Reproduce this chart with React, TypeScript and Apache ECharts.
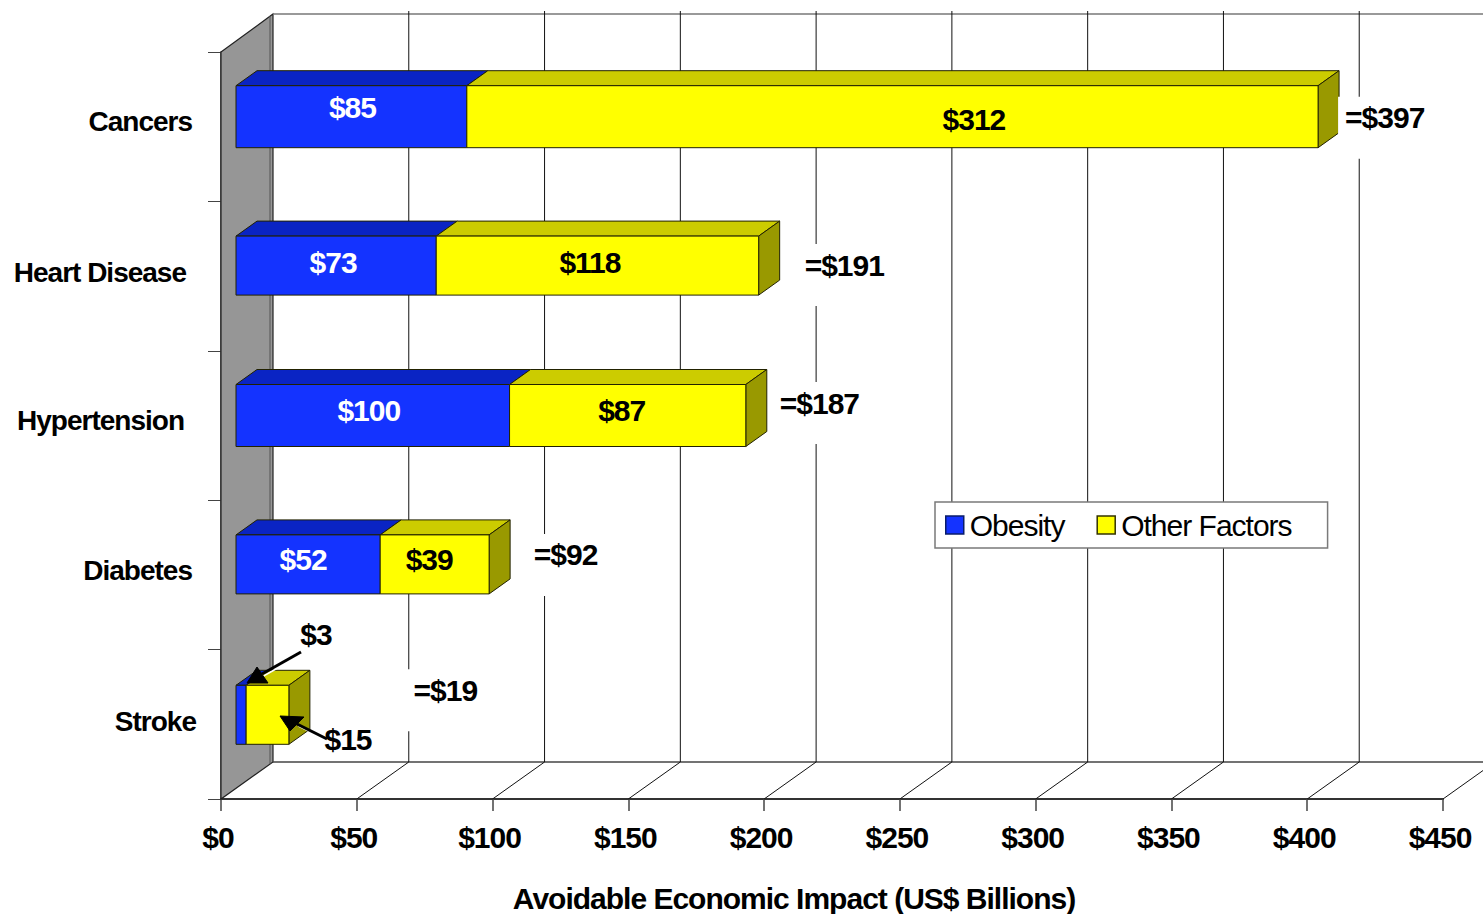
import React, { useEffect, useRef } from "react";
import * as echarts from "echarts";

const categories = ["Cancers", "Heart Disease", "Hypertension", "Diabetes", "Stroke"];
const obesity = [85, 73, 100, 52, 3];
const otherFactors = [312, 118, 87, 39, 15];
const totals = [397, 191, 187, 92, 19];
const xTicks = [50, 100, 150, 200, 250, 300, 350, 400, 450];

// Label placement and small drawing adjustments (pixels), kept apart from the values
const obesityLabelDx = [0, -3, -4, -4.5, 0];
const obesityLabelDy = [-19, -14, -15.5, -15, 0];
const otherLabelDx = [81.5, -6.5, -6, -3, 0];
const otherLabelDy = [-7, -14, -15.5, -15, 0];
const totalLabelDx = [46, 65, 51, 63, 141];
const totalLabelDy = [-9, -11, -22.5, -20, -34];
const categoryPadRight = [4, 10, 12, 4, 0];
const categoryPadBottom = [11, 8, 11, 8, 6];
const joinAdjust = [-2, 0, 0, 1, 0];
const endAdjust = [2, 2, 0, 4, 2];
const topAdjust = [-1, 0, -1, 0, 1];
const bottomAdjust = [1, -1, 1, -1, 0];

const FONT = "Liberation Sans";
const DEPTH_X = 52;
const DEPTH_Y = 37;
const BAR_DX = 21;
const BAR_DY = 15;
const BAR_H = 60;
const BAR_SHIFT = -10;
const BAR_LEFT = 15;
const BAR_JOIN = 17;

const BLUE = { front: "#1433ff", top: "#0a24c4", side: "#0a1d99" };
const YELLOW = { front: "#ffff00", top: "#cccc00", side: "#999900" };

function barRenderer(colors: typeof BLUE, isLast: boolean, labelDx: number[], labelDy: number[], labelColor: string) {
  return (params: any, api: any) => {
    const start = api.value(0);
    const end = api.value(1);
    const idx = api.value(2);
    const c0 = api.coord([start, idx]);
    const c1 = api.coord([end, idx]);
    const x0 = c0[0] + (start === 0 ? BAR_LEFT : BAR_JOIN + joinAdjust[idx]);
    const x1 = c1[0] + BAR_JOIN + (isLast ? endAdjust[idx] : joinAdjust[idx]);
    const yT = c0[1] + BAR_SHIFT - BAR_H / 2 + topAdjust[idx];
    const yB = c0[1] + BAR_SHIFT + BAR_H / 2 + bottomAdjust[idx];
    const edge = { stroke: "#222200", lineWidth: 1, lineJoin: "round" };
    const children: any[] = [
      {
        type: "polygon",
        shape: { points: [[x0, yT], [x0 + BAR_DX, yT - BAR_DY], [x1 + BAR_DX, yT - BAR_DY], [x1, yT]] },
        style: { fill: colors.top, ...edge },
      },
    ];
    if (isLast) {
      children.push({
        type: "polygon",
        shape: { points: [[x1, yT], [x1 + BAR_DX, yT - BAR_DY], [x1 + BAR_DX, yB - BAR_DY], [x1, yB]] },
        style: { fill: colors.side, ...edge },
      });
    }
    children.push({
      type: "rect",
      shape: { x: x0, y: yT, width: x1 - x0, height: yB - yT },
      style: { fill: colors.front, ...edge },
    });
    if (idx < 4) {
      children.push({
        type: "text",
        style: {
          text: "$" + (end - start),
          x: (c0[0] + c1[0]) / 2 + (start === 0 ? (BAR_LEFT + BAR_JOIN) / 2 : BAR_JOIN) + labelDx[idx],
          y: c0[1] + labelDy[idx],
          fill: labelColor,
          font: `bold 30px "${FONT}"`,
          align: "center",
          verticalAlign: "middle",
        },
      });
    }
    return { type: "group", children };
  };
}

function arrow(tail: number[], neck: number[], tip: number[], w1: number[], w2: number[]) {
  return [
    { type: "line", z: 100, shape: { x1: tail[0] + 1.5, y1: tail[1] + 2, x2: neck[0] + 1.5, y2: neck[1] + 2 }, style: { stroke: "#ffffff", lineWidth: 1.5 } },
    { type: "line", z: 101, shape: { x1: tail[0], y1: tail[1], x2: neck[0], y2: neck[1] }, style: { stroke: "#000000", lineWidth: 3 } },
    { type: "polygon", z: 101, shape: { points: [tip, w1, w2] }, style: { fill: "#000000", stroke: "#000000", lineWidth: 1 } },
  ];
}

export default function App() {
  const ref = useRef<HTMLDivElement>(null);
  useEffect(() => {
    if (!ref.current) return;
    const chart = echarts.init(ref.current, undefined, { renderer: "svg" });
    const obesityRows = obesity.map((v, i) => [0, v, i]);
    const otherRows = otherFactors.map((v, i) => [obesity[i], obesity[i] + v, i]);
    const richCat: any = {};
    categories.forEach((_, i) => {
      richCat["c" + i] = {
        fontFamily: FONT,
        fontWeight: "bold",
        fontSize: 28,
        color: "#000",
        padding: [0, categoryPadRight[i], categoryPadBottom[i], 0],
      };
    });
    chart.setOption({
      animation: false,
      backgroundColor: "#ffffff",
      textStyle: { fontFamily: FONT },
      grid: { left: 221, top: 52, width: 1222, height: 747, containLabel: false, outerBoundsMode: "none" },
      legend: {
        left: 935,
        top: 502,
        orient: "horizontal",
        itemWidth: 18,
        itemHeight: 18,
        itemGap: 25,
        padding: [8, 23, 8, 10],
        backgroundColor: "#ffffff",
        borderColor: "#7a7a7a",
        borderWidth: 1.5,
        data: [
          { name: "Obesity", icon: "rect", itemStyle: { color: BLUE.front, borderColor: "#0a1d6a", borderWidth: 1.5 } },
          { name: "Other Factors", icon: "rect", itemStyle: { color: YELLOW.front, borderColor: "#333300", borderWidth: 1.5 } },
        ],
        textStyle: { fontFamily: FONT, fontSize: 30, color: "#000", padding: [0, 0, 0, 1] },
        selectedMode: false,
        z: 50,
      },
      xAxis: {
        type: "value",
        min: 0,
        max: 450,
        interval: 50,
        position: "bottom",
        name: "Avoidable Economic Impact (US$ Billions)",
        nameLocation: "center",
        nameGap: 84,
        nameTextStyle: { fontFamily: FONT, fontWeight: "bold", fontSize: 30, color: "#000", padding: [0, 76, 0, 0] },
        axisLine: { show: true, onZero: false, lineStyle: { color: "#333", width: 2 } },
        axisTick: { show: true, length: 12, lineStyle: { color: "#444", width: 1.5 } },
        axisLabel: {
          formatter: (v: number) => "$" + v,
          fontFamily: FONT,
          fontWeight: "bold",
          fontSize: 30,
          color: "#000",
          margin: 23,
          padding: [0, 6, 0, 0],
          hideOverlap: false,
        },
        splitLine: { show: false },
      },
      yAxis: {
        type: "category",
        inverse: true,
        data: categories,
        axisLine: { show: true, onZero: false, lineStyle: { color: "#333", width: 1.5 } },
        axisTick: { show: true, length: 13, alignWithLabel: false, lineStyle: { color: "#444", width: 1 } },
        axisLabel: {
          margin: 25,
          interval: 0,
          formatter: (v: string) => `{c${categories.indexOf(v)}|${v}}`,
          rich: richCat,
        },
        splitLine: { show: false },
      },
      graphic: {
        elements: [
          ...arrow([301, 652], [262, 674], [247, 683], [257, 667], [268, 683]),
          ...arrow([327, 739], [297, 724], [280, 716], [304, 717], [290, 731]),
          { type: "text", z: 102, style: { text: "$3", x: 316, y: 634, fill: "#000", font: `bold 30px "${FONT}"`, align: "center", verticalAlign: "middle" } },
          { type: "text", z: 102, style: { text: "$15", x: 348, y: 739, fill: "#000", font: `bold 30px "${FONT}"`, align: "center", verticalAlign: "middle" } },
        ],
      },
      series: [
        {
          type: "custom",
          name: "walls",
          silent: true,
          z: 1,
          data: [[0]],
          encode: { x: 0 },
          renderItem: (params: any) => {
            const s = params.coordSys;
            const L = s.x;
            const T = s.y;
            const B = s.y + s.height;
            const R = s.x + s.width;
            return {
              type: "group",
              children: [
                {
                  type: "polygon",
                  shape: { points: [[L, T], [L + DEPTH_X, T - DEPTH_Y - 1], [L + DEPTH_X, B - DEPTH_Y], [L, B]] },
                  style: { fill: "#969696", stroke: "#222", lineWidth: 1.2 },
                },
                { type: "line", shape: { x1: L + DEPTH_X, y1: T - DEPTH_Y - 1, x2: R + DEPTH_X, y2: T - DEPTH_Y - 1 }, style: { stroke: "#777", lineWidth: 1.5 } },
                { type: "line", shape: { x1: L + DEPTH_X, y1: B - DEPTH_Y, x2: R + DEPTH_X, y2: B - DEPTH_Y }, style: { stroke: "#444", lineWidth: 1.5 } },
                { type: "line", shape: { x1: L + DEPTH_X - 3, y1: T - DEPTH_Y + 1, x2: L + DEPTH_X - 3, y2: B - DEPTH_Y + 2 }, style: { stroke: "#555", lineWidth: 1 } },
              ],
            };
          },
        },
        {
          type: "custom",
          name: "grid",
          silent: true,
          z: 2,
          data: xTicks.map((v) => [v]),
          encode: { x: 0 },
          renderItem: (params: any, api: any) => {
            const s = params.coordSys;
            const x = api.coord([api.value(0), 0])[0];
            const B = s.y + s.height;
            const T = s.y;
            return {
              type: "group",
              children: [
                { type: "line", shape: { x1: x, y1: B, x2: x + DEPTH_X, y2: B - DEPTH_Y }, style: { stroke: "#111", lineWidth: 1 } },
                { type: "line", shape: { x1: x + DEPTH_X, y1: B - DEPTH_Y, x2: x + DEPTH_X, y2: T - DEPTH_Y - 4 }, style: { stroke: "#111", lineWidth: 1 } },
              ],
            };
          },
        },
        {
          type: "custom",
          name: "Obesity",
          z: 3,
          itemStyle: { color: BLUE.front },
          encode: { x: [0, 1], y: 2 },
          data: obesityRows,
          renderItem: barRenderer(BLUE, false, obesityLabelDx, obesityLabelDy, "#ffffff"),
        },
        {
          type: "custom",
          name: "Other Factors",
          z: 4,
          itemStyle: { color: YELLOW.front },
          encode: { x: [0, 1], y: 2 },
          data: otherRows,
          renderItem: barRenderer(YELLOW, true, otherLabelDx, otherLabelDy, "#000000"),
        },
        {
          type: "custom",
          name: "totals",
          silent: true,
          z: 5,
          encode: { x: 0, y: 1 },
          data: totals.map((v, i) => [v, i]),
          renderItem: (params: any, api: any) => {
            const v = api.value(0);
            const i = api.value(1);
            const c = api.coord([v, i]);
            const x = c[0] + totalLabelDx[i];
            const y = c[1] + totalLabelDy[i];
            const text = "=$" + v;
            return {
              type: "group",
              children: [
                { type: "rect", shape: { x: x - 7, y: y - 21, width: text.length * 15 + 20, height: 62 }, style: { fill: "#ffffff" } },
                { type: "text", style: { text, x, y, fill: "#000", font: `bold 30px "${FONT}"`, align: "left", verticalAlign: "middle" } },
              ],
            };
          },
        },
      ],
    });
    return () => chart.dispose();
  }, []);
  return (
    <>
      <style>{`html,body{margin:0;padding:0;overflow:hidden;background:#fff} #root text{letter-spacing:-1px}`}</style>
      <div ref={ref} style={{ width: 1483, height: 914 }} />
    </>
  );
}
